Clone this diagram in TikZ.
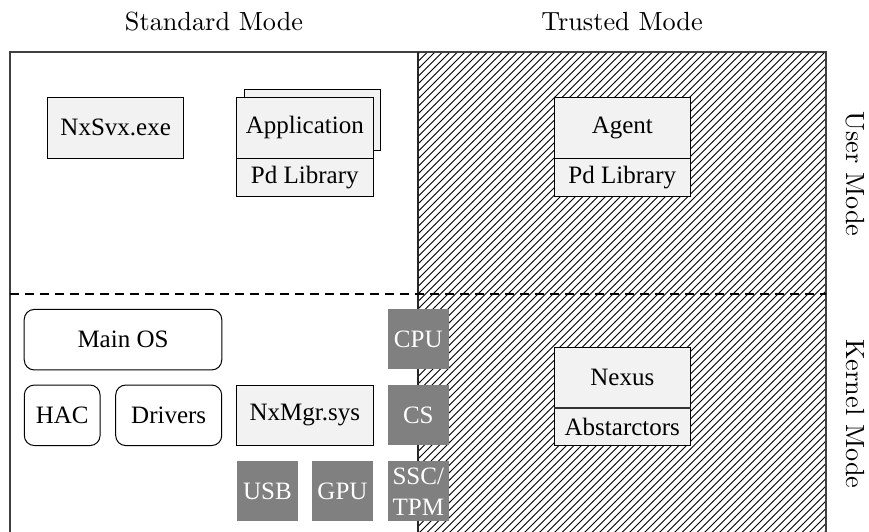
\documentclass[tikz,border=0pt]{standalone}
\usepackage{fontspec}
\newfontfamily\tnr{Liberation Serif}
\usetikzlibrary{patterns,calc}
\tikzset{
  every node/.style={inner sep=0pt, outer sep=0pt},
  box/.style={draw, line width=0.4pt, fill=gray!10, minimum width=54.6pt, minimum height=24.2pt, font=\tnr\fontsize{10}{12}\selectfont},
  libbox/.style={draw, line width=0.4pt, fill=gray!10, minimum width=54.6pt, minimum height=15.2pt, font=\tnr\fontsize{10}{12}\selectfont},
  softbox/.style={draw, line width=0.4pt, rounded corners=4pt, minimum height=24.2pt, font=\tnr\fontsize{10}{12}\selectfont},
  hwbox/.style={fill=black!50, text=white, minimum width=24.6pt, minimum height=24pt, align=center, font=\tnr\fontsize{10}{12.4}\selectfont},
  modelabel/.style={font=\fontsize{10.5}{12.6}\selectfont},
  frame/.style={line width=0.8pt, draw=black!75},
}
\begin{document}
\begin{tikzpicture}[x=0.4pt, y=-0.4pt]
\useasboundingbox (0,0) rectangle (869,532);
\clip (0,0) rectangle (869,532);
% hatched trusted region
\fill[pattern=north east lines] (418,52) rectangle (826,545);
% outer frame and separators
\coordinate (fbl) at (10,545);
\coordinate (ftl) at (10,52);
\coordinate (ftr) at (826,52);
\coordinate (fbr) at (826,545);
\coordinate (dtop) at (418,52);
\coordinate (dbot) at (418,545);
\coordinate (hl) at (10,294);
\coordinate (hr) at (826,294);
\draw[frame] (fbl) -- (ftl) -- (ftr) -- (fbr);
\draw[line width=0.5pt, black!85] (dtop) -- (dbot);
\draw[line width=0.5pt, dash pattern=on 3.6pt off 2.4pt] (hl) -- (hr);
% titles
\node[modelabel] (std) at (214,22) {Standard Mode};
\node[modelabel] (trd) at (622,22) {Trusted Mode};
\node[modelabel, rotate=-90] (um) at (855,174) {User Mode};
\node[modelabel, rotate=-90] (km) at (855,414) {Kernel Mode};
% user mode, standard
\node[box] (svx) at (115.7,127.8) {NxSvx.exe};
\node[box] (appsh) at (312.4,120.2) {};
\node[box] (app) at (304.8,127.8) {Application};
\node[libbox, anchor=north] (pdl1) at (app.south) {Pd Library};
% user mode, trusted
\node[box] (agent) at (622.3,127.8) {Agent};
\node[libbox, anchor=north] (pdl2) at (agent.south) {Pd Library};
% kernel mode, standard
\node[softbox, minimum width=79pt] (mainos) at (123,339.7) {Main OS};
\node[softbox, minimum width=30.3pt] (hac) at (62.2,415.3) {HAC};
\node[softbox, minimum width=42.4pt] (drv) at (168.7,415.3) {Drivers};
\node[box] (mgr) at (304.8,415.3) {NxMgr.sys};
\node[hwbox] (cpu) at (418.3,339.3) {CPU};
\node[hwbox] (cs) at (418.3,415.3) {CS};
\node[hwbox] (ssc) at (418.3,491.5) {SSC/\\TPM};
\node[hwbox] (usb) at (267.5,491.5) {USB};
\node[hwbox] (gpu) at (342.5,491.5) {GPU};
% kernel mode, trusted
\node[box] (nexus) at (622.3,377.7) {Nexus};
\node[libbox, minimum height=14.9pt, anchor=north] (abs) at (nexus.south) {Abstarctors};
\draw[line width=0.8pt, black!80] (nexus.south west) -- (nexus.south east);
\end{tikzpicture}
\end{document}
